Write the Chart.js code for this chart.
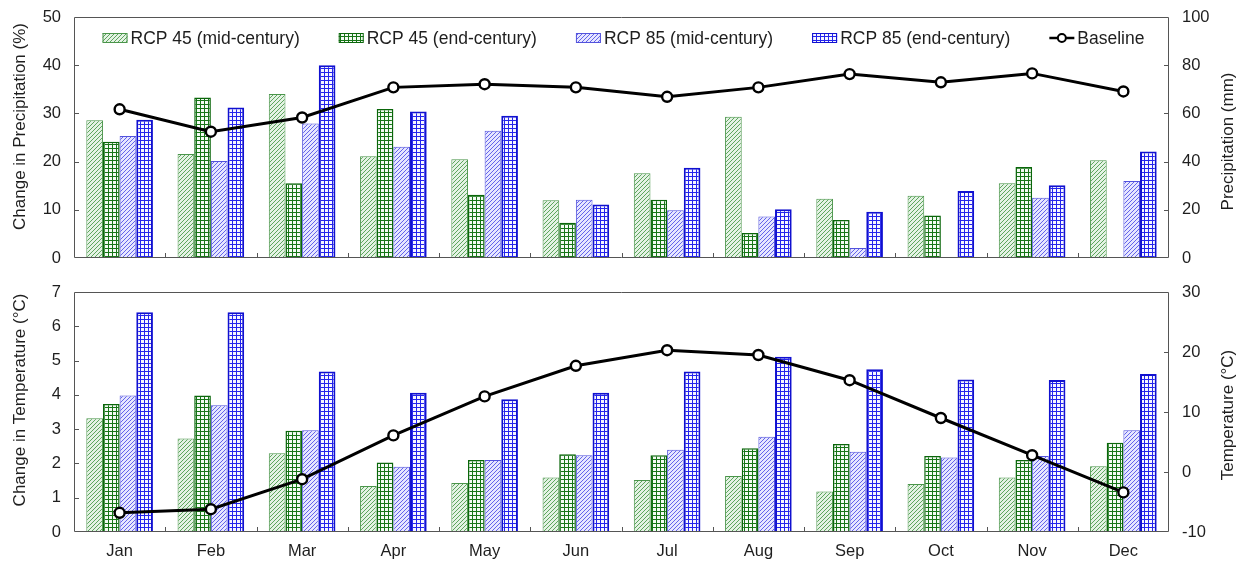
<!DOCTYPE html>
<html>
<head>
<meta charset="utf-8">
<title>Monthly precipitation and temperature change</title>
<script src="https://cdn.jsdelivr.net/npm/chart.js@4.4.1/dist/chart.umd.min.js"></script>
<style>
  html, body { margin: 0; padding: 0; background: #fff; }
  #wrap { position: relative; width: 1241px; height: 567px; overflow: hidden; }
  canvas { position: absolute; left: 0; }
  #precip { top: 0; }
  #temp { top: 275px; }
</style>
</head>
<body>
<div id="wrap">
  <canvas id="precip" width="1241" height="275"></canvas>
  <canvas id="temp" width="1241" height="292"></canvas>
</div>
<script>
// ---- data ----
const months = ['Jan', 'Feb', 'Mar', 'Apr', 'May', 'Jun', 'Jul', 'Aug', 'Sep', 'Oct', 'Nov', 'Dec'];
const seriesLabels = ['RCP 45 (mid-century)', 'RCP 45 (end-century)', 'RCP 85 (mid-century)', 'RCP 85 (end-century)', 'Baseline'];

// change in precipitation (%)
const precipRcp45Mid = [28.6, 21.6, 34.0, 21.1, 20.5, 12.0, 17.6, 29.3, 12.3, 12.9, 15.5, 20.3];
const precipRcp45End = [24.1, 33.3, 15.5, 30.9, 13.1, 7.3, 12.1, 5.2, 7.9, 8.8, 18.9, 0];
const precipRcp85Mid = [25.3, 20.1, 27.9, 23.1, 26.4, 12.1, 9.9, 8.6, 2.1, 0.2, 12.5, 16.0];
const precipRcp85End = [28.7, 31.2, 40.0, 30.4, 29.5, 11.1, 18.7, 10.1, 9.6, 13.9, 15.1, 22.1];
// baseline precipitation (mm)
const precipBaseline = [61.7, 52.4, 58.3, 70.8, 72.1, 70.8, 66.9, 70.8, 76.3, 72.9, 76.6, 69.1];

// change in temperature (°C)
const tempRcp45Mid = [3.32, 2.73, 2.30, 1.34, 1.43, 1.59, 1.52, 1.63, 1.18, 1.40, 1.59, 1.92];
const tempRcp45End = [3.73, 3.98, 2.95, 2.03, 2.10, 2.27, 2.24, 2.44, 2.57, 2.22, 2.10, 2.60];
const tempRcp85Mid = [3.98, 3.70, 2.97, 1.90, 2.10, 2.24, 2.40, 2.78, 2.34, 2.17, 2.22, 2.97];
const tempRcp85End = [6.41, 6.41, 4.68, 4.06, 3.87, 4.06, 4.68, 5.11, 4.75, 4.45, 4.43, 4.61];
// baseline temperature (°C)
const tempBaseline = [-6.8, -6.2, -1.2, 6.1, 12.6, 17.7, 20.3, 19.5, 15.3, 9.0, 2.8, -3.4];

// axis tick values
const precipChangeTicks = [0, 10, 20, 30, 40, 50];
const precipMmTicks = [0, 20, 40, 60, 80, 100];
const tempChangeTicks = [0, 1, 2, 3, 4, 5, 6, 7];
const tempTicks = [-10, 0, 10, 20, 30];

// ---- styling ----
const FONT = "'Liberation Sans', Arial, Helvetica, sans-serif";
const TEXT = '#1e1e1e';
const FRAME = '#555';

function makeTile(size, paint) {
  const c = document.createElement('canvas');
  c.width = c.height = size;
  const g = c.getContext('2d');
  paint(g, size);
  return g.createPattern(c, 'repeat');
}
function hatchPattern(line, bg) {
  return makeTile(4, (g, n) => {
    g.fillStyle = bg; g.fillRect(0, 0, n, n);
    g.fillStyle = line;
    for (let i = 0; i < n; i++) g.fillRect(i, n - 1 - i, 1, 1);
  });
}
function gridPattern(line, bg) {
  return makeTile(4, (g, n) => {
    g.fillStyle = bg; g.fillRect(0, 0, n, n);
    g.fillStyle = line;
    g.fillRect(0, 0, n, 1);
    g.fillRect(0, 0, 1, n);
  });
}

const barStyles = [
  { fill: hatchPattern('#5da55d', '#e4f2e4'), stroke: '#4a954a', width: 1 },
  { fill: gridPattern('#177517', '#f4fbf4'), stroke: '#0a660a', width: 1.5 },
  { fill: hatchPattern('#6464ea', '#e6e6ff'), stroke: '#5252dc', width: 1 },
  { fill: gridPattern('#2424ec', '#f6f6ff'), stroke: '#1010d0', width: 2 }
];

// frame box with inward tick marks
const framePlugin = {
  id: 'frame',
  afterDatasetsDraw(chart) {
    const { ctx, chartArea: a, scales } = chart;
    const tl = 5;
    ctx.save();
    ctx.strokeStyle = FRAME;
    ctx.lineWidth = 1;
    ctx.beginPath();
    ctx.rect(Math.round(a.left) + 0.5, Math.round(a.top) + 0.5,
             Math.round(a.width) - 1, Math.round(a.height) - 1);
    ['y', 'y1'].forEach(id => {
      const s = scales[id];
      s.ticks.forEach(t => {
        const py = Math.round(s.getPixelForValue(t.value)) + 0.5;
        if (py <= a.top + 2 || py >= a.bottom - 2) return;
        if (id === 'y') { ctx.moveTo(a.left, py); ctx.lineTo(a.left + tl, py); }
        else { ctx.moveTo(a.right, py); ctx.lineTo(a.right - tl, py); }
      });
    });
    const n = chart.data.labels.length;
    const cw = a.width / n;
    for (let i = 1; i < n; i++) {
      const px = Math.round(a.left + i * cw) + 0.5;
      ctx.moveTo(px, a.bottom);
      ctx.lineTo(px, a.bottom - tl);
    }
    ctx.stroke();
    ctx.restore();
  }
};

// rotated axis titles on both sides
const axisTitlePlugin = {
  id: 'axisTitles',
  afterDraw(chart, args, opts) {
    const { ctx, chartArea: a } = chart;
    const cy = (a.top + a.bottom) / 2;
    ctx.save();
    ctx.font = `17px ${FONT}`;
    ctx.fillStyle = TEXT;
    ctx.textAlign = 'center';
    ctx.textBaseline = 'middle';
    [[opts.left, 20, cy + opts.leftShift], [opts.right, chart.width - 13, cy + opts.rightShift]].forEach(([txt, x, y]) => {
      ctx.save();
      ctx.translate(x, y);
      ctx.rotate(-Math.PI / 2);
      ctx.fillText(txt, 0, 0);
      ctx.restore();
    });
    ctx.restore();
  }
};

// legend row drawn inside the plot area
const insideLegendPlugin = {
  id: 'insideLegend',
  afterDraw(chart, args, opts) {
    if (!opts.show) return;
    const { ctx, chartArea: a } = chart;
    const sw = 25, sh = 10, gapText = 3, gapItem = 39;
    ctx.save();
    ctx.font = `17.5px ${FONT}`;
    const items = chart.data.datasets.map(ds => ({ ds, w: sw + gapText + ctx.measureText(ds.label).width }));
    const total = items.reduce((s, it) => s + it.w, 0) + gapItem * (items.length - 1);
    let x = (a.left + a.right) / 2 - total / 2 + 2;
    const y = a.top + 21;
    items.forEach(({ ds, w }) => {
      if (ds.type === 'line') {
        ctx.strokeStyle = ds.borderColor;
        ctx.lineWidth = 2.5;
        ctx.beginPath(); ctx.moveTo(x, y); ctx.lineTo(x + sw, y); ctx.stroke();
        ctx.beginPath(); ctx.arc(x + sw / 2, y, 4, 0, Math.PI * 2);
        ctx.fillStyle = '#fff'; ctx.fill();
        ctx.lineWidth = 2; ctx.stroke();
      } else {
        ctx.fillStyle = ds.backgroundColor;
        ctx.fillRect(x, y - sh / 2, sw, sh);
        ctx.strokeStyle = ds.borderColor;
        ctx.lineWidth = 1;
        ctx.strokeRect(x + 0.5, y - sh / 2 + 0.5, sw - 1, sh - 1);
      }
      ctx.fillStyle = TEXT;
      ctx.textAlign = 'left';
      ctx.textBaseline = 'middle';
      ctx.fillText(ds.label, x + sw + gapText, y + 1);
      x += w + gapItem;
    });
    ctx.restore();
  }
};

// fixed axis width; edge labels may overhang the plot box instead of shrinking it
function fixVertical(width) {
  return s => { s.width = width; s.paddingTop = 0; s.paddingBottom = 0; };
}

function buildChart(canvasId, cfg) {
  const bars = cfg.bars.map((vals, i) => ({
    type: 'bar',
    label: seriesLabels[i],
    data: vals,
    yAxisID: 'y',
    backgroundColor: barStyles[i].fill,
    borderColor: barStyles[i].stroke,
    borderWidth: barStyles[i].width,
    categoryPercentage: 0.73,
    barPercentage: 1.0,
    order: 2
  }));
  const line = {
    type: 'line',
    label: seriesLabels[4],
    data: cfg.baseline,
    yAxisID: 'y1',
    borderColor: '#000',
    borderWidth: 3,
    tension: 0,
    pointRadius: 5,
    pointBorderWidth: 2.4,
    pointBackgroundColor: '#fff',
    pointBorderColor: '#000',
    order: 0
  };
  const tickFont = { family: FONT, size: 16.5 };
  const lt = cfg.leftTicks, rt = cfg.rightTicks;
  return new Chart(document.getElementById(canvasId), {
    data: { labels: months, datasets: [...bars, line] },
    plugins: [framePlugin, axisTitlePlugin, insideLegendPlugin],
    options: {
      responsive: false,
      animation: false,
      devicePixelRatio: 1,
      layout: { padding: { top: cfg.padTop, left: 0, right: 0, bottom: 0 } },
      plugins: {
        legend: { display: false },
        tooltip: { enabled: false },
        axisTitles: { left: cfg.leftTitle, right: cfg.rightTitle, leftShift: cfg.leftShift, rightShift: cfg.rightShift },
        insideLegend: { show: cfg.legend }
      },
      scales: {
        x: {
          type: 'category',
          offset: true,
          grid: { display: false, drawTicks: false, offset: true },
          border: { display: false },
          ticks: { display: cfg.showMonths, color: TEXT, font: tickFont, padding: 10, maxRotation: 0 },
          afterFit(s) { s.height = cfg.xHeight; s.paddingLeft = 0; s.paddingRight = 0; }
        },
        y: {
          position: 'left',
          min: lt[0], max: lt[lt.length - 1],
          grid: { display: false, drawTicks: false },
          border: { display: false },
          ticks: { stepSize: lt[1] - lt[0], color: TEXT, font: tickFont, padding: 13 },
          afterFit: fixVertical(74)
        },
        y1: {
          position: 'right',
          min: rt[0], max: rt[rt.length - 1],
          grid: { display: false, drawTicks: false },
          border: { display: false },
          ticks: { stepSize: rt[1] - rt[0], color: TEXT, font: tickFont, padding: 13 },
          afterFit: fixVertical(72)
        }
      }
    }
  });
}

buildChart('precip', {
  bars: [precipRcp45Mid, precipRcp45End, precipRcp85Mid, precipRcp85End],
  baseline: precipBaseline,
  leftTicks: precipChangeTicks,
  rightTicks: precipMmTicks,
  leftTitle: 'Change in Precipitation (%)',
  rightTitle: 'Precipitation (mm)',
  leftShift: -11, rightShift: 4,
  legend: true,
  showMonths: false,
  padTop: 17,
  xHeight: 17
});

buildChart('temp', {
  bars: [tempRcp45Mid, tempRcp45End, tempRcp85Mid, tempRcp85End],
  baseline: tempBaseline,
  leftTicks: tempChangeTicks,
  rightTicks: tempTicks,
  leftTitle: 'Change in Temperature (°C)',
  rightTitle: 'Temperature (°C)',
  leftShift: -12, rightShift: 3,
  legend: false,
  showMonths: true,
  padTop: 17,
  xHeight: 35
});
</script>
</body>
</html>
